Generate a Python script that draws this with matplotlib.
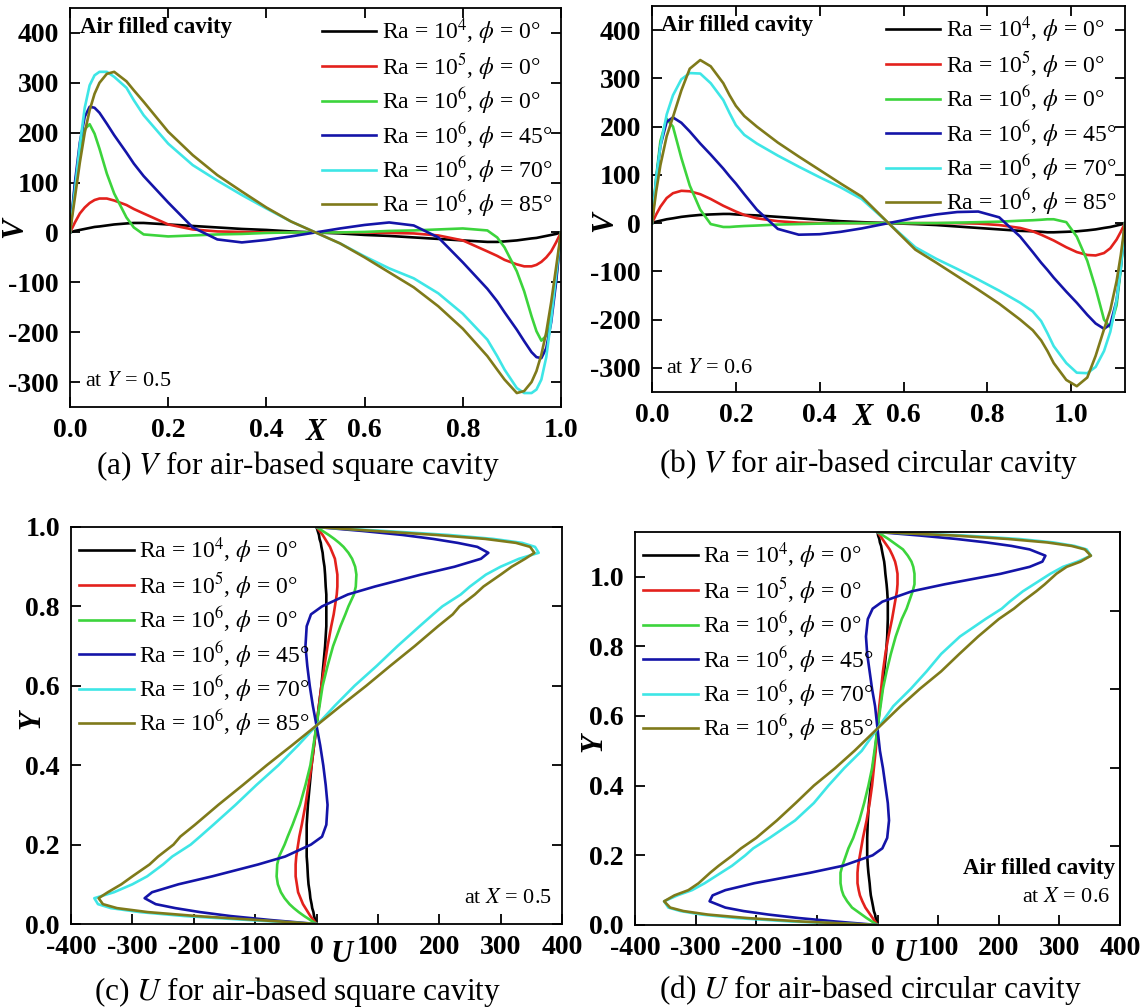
import matplotlib
matplotlib.use("Agg")
import matplotlib.pyplot as plt
from matplotlib.ticker import FormatStrFormatter

plt.rcParams["font.family"] = ["Liberation Serif", "DejaVu Serif"]
plt.rcParams["mathtext.fontset"] = "stix"
plt.rcParams["axes.unicode_minus"] = False

# ---- legend / colours ----
labels = [
    r"Ra = 10$^{4}$, $\phi$ = 0°",
    r"Ra = 10$^{5}$, $\phi$ = 0°",
    r"Ra = 10$^{6}$, $\phi$ = 0°",
    r"Ra = 10$^{6}$, $\phi$ = 45°",
    r"Ra = 10$^{6}$, $\phi$ = 70°",
    r"Ra = 10$^{6}$, $\phi$ = 85°",
]
colors = ["#000000", "#e3211c", "#3cd43c", "#1414a8", "#3ee6e6", "#7f7a1a"]

# ---- (a) V along X, square cavity, at Y = 0.5 ----
xa = [0, 0.01, 0.02, 0.03, 0.04, 0.05, 0.06, 0.075, 0.09, 0.115, 0.13, 0.15, 0.2, 0.25, 0.3, 0.35, 0.4, 0.45, 0.5,
      0.55, 0.6, 0.65, 0.7, 0.75, 0.8, 0.85, 0.87, 0.885, 0.91, 0.925, 0.94, 0.95, 0.96, 0.97, 0.98, 0.99, 1.0]
va_ra4 = [0, 3, 5, 7, 9, 11, 12, 14, 16, 18, 19, 19, 16, 13, 10, 7, 5, 2, 0,
          -2, -5, -7, -10, -13, -16, -19, -19, -18, -16, -14, -12, -11, -9, -7, -5, -3, 0]
va_ra5 = [0, 20, 38, 50, 59, 65, 68, 68, 64, 55, 47, 38, 16, 6, 2, 1, 0, 0, 0,
          0, 0, -1, -2, -6, -16, -38, -47, -55, -64, -68, -68, -65, -59, -50, -38, -20, 0]
va_ra6 = [0, 95, 165, 207, 217, 198, 168, 118, 78, 30, 10, -4, -8, -6, -4, -3, -1, 0, 0,
          0, 1, 3, 4, 6, 8, 4, -10, -30, -78, -118, -168, -198, -217, -207, -165, -95, 0]
va_p45 = [0, 100, 180, 232, 252, 250, 240, 218, 195, 160, 138, 113, 60, 10, -14, -20, -15, -8, 0,
          8, 15, 20, 14, -10, -60, -113, -138, -160, -195, -218, -240, -250, -252, -232, -180, -100, 0]
va_p70 = [0, 85, 175, 250, 295, 315, 322, 322, 312, 290, 265, 235, 178, 135, 104, 75, 48, 22, 0,
          -22, -48, -72, -92, -122, -163, -215, -248, -275, -312, -322, -322, -315, -295, -250, -175, -85, 0]
va_p85 = [0, 70, 140, 200, 245, 278, 300, 318, 322, 303, 285, 262, 202, 155, 115, 82, 50, 22, 0,
          -22, -50, -80, -110, -148, -193, -248, -275, -295, -322, -318, -300, -278, -245, -200, -140, -70, 0]

# ---- (b) V along X, circular cavity, at Y = 0.6 ----
xb = [0, 0.01, 0.02, 0.035, 0.05, 0.07, 0.09, 0.115, 0.14, 0.17, 0.185, 0.2, 0.22, 0.25, 0.3, 0.35, 0.4, 0.45,
      0.5, 0.564, 0.628, 0.678, 0.728, 0.778, 0.828, 0.878, 0.908, 0.928, 0.943, 0.958, 0.988, 1.013, 1.038,
      1.058, 1.078, 1.093, 1.108, 1.118, 1.128]
vb_ra4 = [0, 3, 5, 8, 10, 13, 15, 17, 18, 19, 19, 18, 17, 16, 13, 10, 7, 4, 2, 0,
          -2, -4, -7, -10, -13, -16, -17, -18, -19, -19, -18, -17, -15, -13, -10, -8, -5, -3, 0]
vb_ra5 = [0, 18, 34, 52, 62, 67, 66, 60, 50, 36, 30, 24, 17, 10, 4, 1, 0, 0, 0, 0,
          0, 0, 0, -1, -4, -10, -17, -24, -30, -36, -50, -60, -66, -67, -62, -52, -34, -18, 0]
vb_ra6 = [0, 95, 170, 216, 200, 135, 78, 28, -2, -8, -8, -7, -6, -5, -3, -2, -1, 0, 0, 0,
          0, 0, 1, 2, 3, 5, 6, 7, 8, 8, 2, -28, -78, -135, -200, -216, -170, -95, 0]
vb_p45 = [0, 90, 160, 210, 219, 208, 190, 165, 142, 113, 97, 82, 60, 28, -12, -24, -23, -18, -11, 0,
          11, 18, 23, 24, 12, -28, -60, -82, -97, -113, -142, -165, -190, -208, -219, -210, -160, -90, 0]
vb_p70 = [0, 94, 160, 225, 265, 298, 311, 310, 290, 255, 228, 203, 183, 165, 140, 117, 95, 74, 50, 0,
          -50, -74, -95, -117, -140, -165, -183, -203, -228, -255, -290, -310, -311, -298, -265, -225, -160, -94, 0]
vb_p85 = [0, 66, 120, 180, 220, 275, 320, 338, 325, 290, 265, 243, 222, 200, 167, 138, 110, 82, 55, 0,
          -55, -82, -110, -138, -167, -200, -222, -243, -265, -290, -325, -338, -320, -275, -220, -180, -120, -66, 0]

# ---- (c) U along Y, square cavity, at X = 0.5 ----
yc = [0, 0.01, 0.02, 0.03, 0.04, 0.05, 0.065, 0.08, 0.1, 0.12, 0.15, 0.17, 0.2, 0.22, 0.25, 0.3, 0.35, 0.4, 0.45, 0.5,
      0.55, 0.6, 0.65, 0.7, 0.75, 0.78, 0.8, 0.83, 0.85, 0.88, 0.9, 0.92, 0.935, 0.95, 0.96, 0.97, 0.98, 0.99, 1.0]
uc_ra4 = [0, -2, -4, -5, -7, -8, -10, -11, -13, -14, -15, -16, -16, -16, -16, -14, -11, -8, -4, 0,
          4, 8, 11, 14, 16, 16, 16, 16, 15, 14, 13, 11, 10, 8, 7, 5, 4, 2, 0]
uc_ra5 = [0, -5, -10, -14, -18, -22, -26, -30, -32, -34, -34, -33, -30, -28, -24, -18, -13, -8, -4, 0,
          4, 8, 13, 18, 24, 28, 30, 33, 34, 34, 32, 30, 26, 22, 18, 14, 10, 5, 0]
uc_ra6 = [0, -10, -20, -29, -37, -44, -52, -58, -63, -65, -64, -61, -52, -47, -39, -27, -18, -10, -5, 0,
          5, 10, 18, 27, 39, 47, 52, 61, 64, 65, 63, 58, 52, 44, 37, 29, 20, 10, 0]
uc_p45 = [0, -75, -140, -190, -230, -262, -280, -268, -225, -170, -95, -51, -9, 9, 16, 18, 15, 11, 6, 0,
          -6, -11, -15, -18, -16, -9, 9, 51, 95, 170, 225, 268, 280, 262, 230, 190, 140, 75, 0]
uc_p70 = [0, -110, -215, -288, -335, -356, -362, -330, -300, -276, -250, -235, -205, -190, -168, -132, -98, -62, -30, 0,
          30, 62, 98, 132, 168, 190, 205, 235, 250, 276, 300, 330, 362, 356, 335, 288, 215, 110, 0]
uc_p85 = [0, -95, -195, -275, -325, -348, -355, -340, -318, -300, -272, -258, -233, -222, -198, -160, -120, -81, -40, 0,
          40, 81, 120, 160, 198, 222, 233, 258, 272, 300, 318, 340, 355, 348, 325, 275, 195, 95, 0]

# ---- (d) U along Y, circular cavity, at X = 0.6 ----
yd = [0, 0.01, 0.02, 0.03, 0.04, 0.05, 0.068, 0.085, 0.1, 0.12, 0.15, 0.17, 0.2, 0.22, 0.25, 0.3, 0.35, 0.4, 0.45,
      0.5, 0.564, 0.628, 0.678, 0.728, 0.778, 0.828, 0.878, 0.908, 0.928, 0.958, 0.978, 1.008, 1.028, 1.043,
      1.06, 1.078, 1.088, 1.098, 1.108, 1.118, 1.128]
ud_ra4 = [0, -1, -3, -4, -6, -7, -9, -11, -12, -13, -15, -16, -17, -17, -17, -16, -14, -11, -8, -4, 0,
          4, 8, 11, 14, 16, 17, 17, 17, 16, 15, 13, 12, 11, 9, 7, 6, 4, 3, 1, 0]
ud_ra5 = [0, -4, -8, -12, -16, -20, -25, -29, -31, -33, -33, -32, -29, -27, -24, -18, -13, -9, -6, -3, 0,
          3, 6, 9, 13, 18, 24, 27, 29, 32, 33, 33, 31, 29, 25, 20, 16, 12, 8, 4, 0]
ud_ra6 = [0, -9, -18, -26, -34, -42, -50, -56, -59, -61, -61, -58, -52, -48, -40, -30, -22, -15, -9, -5, 0,
          5, 9, 15, 22, 30, 40, 48, 52, 58, 61, 61, 59, 56, 50, 42, 34, 26, 18, 9, 0]
ud_p45 = [0, -69, -130, -180, -221, -251, -277, -272, -251, -203, -111, -57, -8, 8, 16, 19, 17, 13, 9, 4, 0,
          -4, -9, -13, -17, -19, -16, -8, 8, 57, 111, 203, 251, 272, 277, 251, 221, 180, 130, 69, 0]
ud_p70 = [0, -142, -233, -290, -325, -345, -352, -330, -306, -285, -258, -240, -218, -205, -178, -136, -105, -81,
          -55, -26, 0, 26, 55, 81, 105, 136, 178, 205, 218, 240, 258, 285, 306, 330, 352, 345, 325, 290, 233, 142, 0]
ud_p85 = [0, -125, -215, -280, -320, -342, -352, -335, -312, -295, -276, -262, -239, -225, -200, -166, -135, -105,
          -70, -38, 0, 38, 70, 105, 135, 166, 200, 225, 239, 262, 276, 295, 312, 335, 352, 342, 320, 280, 215, 125, 0]

W, H = 1148, 1007
fig = plt.figure(figsize=(W / 100, H / 100), dpi=100)


def place(l, t, r, b):
    return fig.add_axes([l / W, 1 - b / H, (r - l) / W, (b - t) / H])


def style(ax, top=True, right=True):
    for s in ax.spines.values():
        s.set_linewidth(1.3)
    ax.tick_params(direction="in", length=7, width=1.3, top=top, right=right,
                   labelsize=20, pad=8)
    for lab in ax.get_xticklabels() + ax.get_yticklabels():
        lab.set_fontweight("bold")


def caption(x, y, s):
    fig.text(x / W, 1 - y / H, s, ha="center", va="center", fontsize=22.5)


def add_legend(ax, loc):
    ax.legend(loc=loc, frameon=False, fontsize=17, handlelength=2.3,
              handletextpad=0.25, labelspacing=0.17, borderpad=0.2, borderaxespad=0.15)


lab_font = dict(fontsize=22, fontweight="bold", fontstyle="italic")
lw = 1.9

# (a)
ax = place(70, 8, 561, 407)
for v, c, l in zip([va_ra4, va_ra5, va_ra6, va_p45, va_p70, va_p85], colors, labels):
    ax.plot(xa, v, color=c, lw=lw, label=l, solid_joinstyle="round")
ax.set_xlim(0, 1.0)
ax.set_ylim(-350, 450)
ax.set_xticks([0, 0.2, 0.4, 0.6, 0.8, 1.0])
ax.set_yticks([-300, -200, -100, 0, 100, 200, 300, 400])
ax.xaxis.set_major_formatter(FormatStrFormatter("%.1f"))
style(ax)
add_legend(ax, "upper right")
ax.text(0.02, 0.95, "Air filled cavity", transform=ax.transAxes, fontsize=16.5,
        fontweight="bold", va="center")
ax.text(0.03, 0.063, r"at $Y$ = 0.5", transform=ax.transAxes, fontsize=16, va="center")
ax.text(-0.112, 0.45, "V", transform=ax.transAxes, rotation=90, ha="center", va="center", **lab_font)
ax.text(0.5, -0.065, "X", transform=ax.transAxes, ha="center", va="center", **lab_font)
caption(298, 466, r"(a) $V$ for air-based square cavity")

# (b)
ax = place(652, 6, 1125, 392)
for v, c, l in zip([vb_ra4, vb_ra5, vb_ra6, vb_p45, vb_p70, vb_p85], colors, labels):
    ax.plot(xb, v, color=c, lw=lw, label=l, solid_joinstyle="round")
ax.set_xlim(0, 1.128)
ax.set_ylim(-350, 450)
ax.set_xticks([0, 0.2, 0.4, 0.6, 0.8, 1.0])
ax.set_yticks([-300, -200, -100, 0, 100, 200, 300, 400])
ax.xaxis.set_major_formatter(FormatStrFormatter("%.1f"))
style(ax)
add_legend(ax, "upper right")
ax.text(0.02, 0.95, "Air filled cavity", transform=ax.transAxes, fontsize=16.5,
        fontweight="bold", va="center")
ax.text(0.03, 0.062, r"at $Y$ = 0.6", transform=ax.transAxes, fontsize=16, va="center")
ax.text(-0.099, 0.44, "V", transform=ax.transAxes, rotation=90, ha="center", va="center", **lab_font)
ax.text(0.446, -0.065, "X", transform=ax.transAxes, ha="center", va="center", **lab_font)
caption(869, 464, r"(b) $V$ for air-based circular cavity")

# (c)
ax = place(71, 527, 562, 924)
for u, c, l in zip([uc_ra4, uc_ra5, uc_ra6, uc_p45, uc_p70, uc_p85], colors, labels):
    ax.plot(u, yc, color=c, lw=lw, label=l, solid_joinstyle="round")
ax.set_xlim(-400, 400)
ax.set_ylim(0, 1.0)
ax.set_xticks(range(-400, 401, 100))
ax.set_yticks([0, 0.2, 0.4, 0.6, 0.8, 1.0])
ax.yaxis.set_major_formatter(FormatStrFormatter("%.1f"))
style(ax, top=False)
add_legend(ax, "upper left")
ax.text(0.98, 0.063, r"at $X$ = 0.5", transform=ax.transAxes, fontsize=16,
        ha="right", va="center")
ax.text(-0.08, 0.514, "Y", transform=ax.transAxes, rotation=90, ha="center", va="center", **lab_font)
ax.text(0.55, -0.076, "U", transform=ax.transAxes, ha="center", va="center", **lab_font)
caption(298, 992, r"(c) $U$ for air-based square cavity")

# (d)
ax = place(635, 532, 1120, 925)
for u, c, l in zip([ud_ra4, ud_ra5, ud_ra6, ud_p45, ud_p70, ud_p85], colors, labels):
    ax.plot(u, yd, color=c, lw=lw, label=l, solid_joinstyle="round")
ax.set_xlim(-400, 400)
ax.set_ylim(0, 1.128)
ax.set_xticks(range(-400, 401, 100))
ax.set_yticks([0, 0.2, 0.4, 0.6, 0.8, 1.0])
ax.yaxis.set_major_formatter(FormatStrFormatter("%.1f"))
style(ax, top=False, right=False)
sec = ax.secondary_yaxis("right", functions=(lambda y: y / 1.128, lambda y: y * 1.128))
sec.set_yticks([0.2, 0.4, 0.6, 0.8])
sec.tick_params(direction="in", length=7, width=1.3, labelright=False)
sec.spines["right"].set_linewidth(1.3)
add_legend(ax, "upper left")
ax.text(0.99, 0.145, "Air filled cavity", transform=ax.transAxes, fontsize=16.5,
        fontweight="bold", ha="right", va="center")
ax.text(0.98, 0.069, r"at $X$ = 0.6", transform=ax.transAxes, fontsize=16,
        ha="right", va="center")
ax.text(-0.085, 0.463, "Y", transform=ax.transAxes, rotation=90, ha="center", va="center", **lab_font)
ax.text(0.555, -0.072, "U", transform=ax.transAxes, ha="center", va="center", **lab_font)
caption(870, 990, r"(d) $U$ for air-based circular cavity")

fig.savefig("out.png", dpi=100)
